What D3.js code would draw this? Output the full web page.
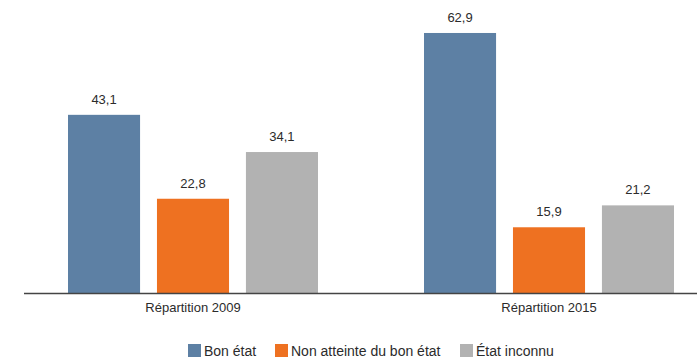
<!DOCTYPE html>
<html>

<head>
    <meta charset="utf-8">
    <title>Répartition</title>
    <script src="https://d3js.org/d3.v7.min.js"></script>
    <style>
        body { margin: 0; background: #fff; }
        text { font-family: "Liberation Sans", Arial, sans-serif; fill: #2b2b2b; }
    </style>
</head>

<body>
    <script>
        const groups = ['Répartition 2009', 'Répartition 2015']
        const series = ['Bon état', 'Non atteinte du bon état', 'État inconnu']
        const values2009 = [43.1, 22.8, 34.1]
        const values2015 = [62.9, 15.9, 21.2]
        const colors = ['#5d80a4', '#ee7121', '#b2b2b2']

        const msm = {
            width: 697,
            height: 360,
            base: 293
        }

        const data = groups.map((g, i) => ({
            group: g,
            values: (i === 0 ? values2009 : values2015)
        }))

        let svg = d3.select('body')
            .append('svg')
            .attr('width', msm.width)
            .attr('height', msm.height)

        let x0 = d3.scaleBand()
            .domain(groups)
            .range([15, 727])

        let x1 = d3.scaleBand()
            .domain(series)
            .range([53, 303])
            .paddingInner(0.19)
            .paddingOuter(0)

        let y = d3.scaleLinear()
            .domain([0, 65])
            .range([msm.base, 24.3])

        let fmt = v => d3.format('.1f')(v).replace('.', ',')

        let g = svg.selectAll('g.grp')
            .data(data)
            .enter()
            .append('g')
            .attr('class', 'grp')
            .attr('transform', d => 'translate(' + x0(d.group) + ',0)')

        // bars
        g.selectAll('rect')
            .data(d => d.values.map((v, i) => ({ s: series[i], v: v, c: colors[i] })))
            .enter()
            .append('rect')
            .attr('x', d => x1(d.s))
            .attr('y', d => y(d.v))
            .attr('width', x1.bandwidth())
            .attr('height', d => msm.base - y(d.v))
            .attr('fill', d => d.c)

        // value labels
        g.selectAll('text.val')
            .data(d => d.values.map((v, i) => ({ s: series[i], v: v })))
            .enter()
            .append('text')
            .attr('class', 'val')
            .attr('x', d => x1(d.s) + x1.bandwidth() / 2)
            .attr('y', d => y(d.v) - 11)
            .attr('text-anchor', 'middle')
            .style('font-size', '13px')
            .text(d => fmt(d.v))

        // axis
        let axis = svg.append('g')
            .attr('transform', 'translate(0,' + msm.base + ')')
            .call(d3.axisBottom(x0).tickSize(0).tickPadding(10))
        axis.select('.domain')
            .attr('d', 'M24,0.5H697')
            .attr('stroke', '#444')
            .attr('stroke-width', 1.5)
        axis.selectAll('text')
            .style('font-size', '13px')
            .style('font-family', '"Liberation Sans", Arial, sans-serif')
            .attr('fill', '#2b2b2b')

        // legend
        let legendX = [188, 275, 460]
        let legend = svg.append('g')
            .selectAll('g')
            .data(series)
            .enter()
            .append('g')
            .attr('transform', (d, i) => 'translate(' + legendX[i] + ',344)')
        legend.append('rect')
            .attr('width', 13)
            .attr('height', 13)
            .attr('fill', (d, i) => colors[i])
        legend.append('text')
            .attr('x', 16)
            .attr('y', 12)
            .style('font-size', '14px')
            .text(d => d)
    </script>
</body>
</html>
